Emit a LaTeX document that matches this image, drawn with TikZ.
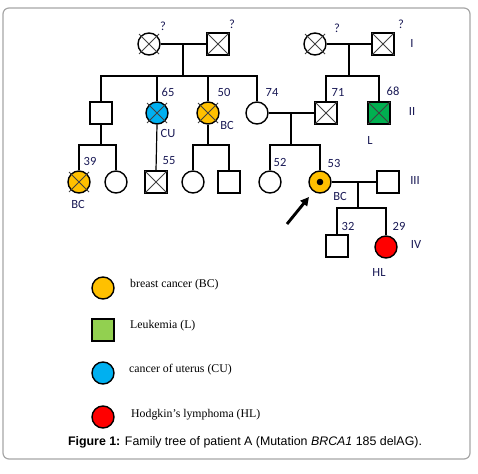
\documentclass[tikz,border=0pt]{standalone}
\usepackage{fontspec}
\setmainfont{Liberation Serif}
\newfontfamily\labfont{Carlito}
\newfontfamily\capfont{Liberation Sans}
\usetikzlibrary{calc,arrows.meta}
\definecolor{yel}{RGB}{255,192,0}
\definecolor{cub}{RGB}{0,176,240}
\definecolor{grn}{RGB}{0,176,80}
\definecolor{lgrn}{RGB}{146,208,80}
\definecolor{hred}{RGB}{255,0,0}
\definecolor{labc}{RGB}{25,25,85}
\newcommand\xcross[2][10]{\draw[xln] ($(#2)+(-#1,-#1)$) -- ($(#2)+(#1,#1)$) ($(#2)+(-#1,#1)$) -- ($(#2)+(#1,-#1)$);}
\begin{document}
\begin{tikzpicture}[x=1pt,y=-1pt,
  fem/.style={circle, draw, line width=1.4pt, minimum size=22pt, inner sep=0pt},
  mal/.style={rectangle, draw, line width=1.3pt, minimum size=22pt, inner sep=0pt},
  thk/.style={line width=2.9pt},
  thn/.style={line width=1.2pt},
  xln/.style={line width=0.8pt, black!75},
  lbl/.style={font=\labfont\fontsize{12.5}{13}\selectfont, text=labc, inner sep=0pt},
  leg/.style={font=\fontsize{11.8}{13}\selectfont, anchor=west, inner sep=0pt}]
\useasboundingbox (0,0) rectangle (478,473);
\draw[black!35, line width=1.2pt, rounded corners=6pt] (3,8) rectangle (470,459);

% Generation I
\node[fem] (a1) at (149,44) {};
\node[mal] (a2) at (218,44) {};
\node[fem] (b1) at (315,44) {};
\node[mal] (b2) at (383,44) {};
\xcross{a1}\xcross[11]{a2}\xcross{b1}\xcross[11]{b2}

% Generation II
\node[mal] (p1) at (101,113) {};
\node[fem, fill=cub] (p2) at (157,113) {};
\node[fem, fill=yel] (p3) at (208,113) {};
\node[fem] (p4) at (257,113) {};
\node[mal] (p5) at (326,113) {};
\node[mal, fill=grn] (p6) at (379,113) {};
\xcross{p2}\xcross{p3}\xcross[11]{p5}\xcross[11]{p6}

% Generation III
\node[fem, fill=yel] (q1) at (79,182) {};
\node[fem] (q2) at (116,182) {};
\node[mal] (q3) at (156,182) {};
\node[fem] (q4) at (193,182) {};
\node[mal] (q5) at (229,182) {};
\node[fem] (q6) at (270,182) {};
\node[fem, fill=yel] (q7) at (320,182) {};
\node[mal] (q8) at (388,182) {};
\xcross{q1}\xcross[11]{q3}
\fill (q7) circle (3.3pt);

% Generation IV
\node[mal] (r1) at (337,246) {};
\node[fem, fill=hred] (r2) at (386,247) {};

% coordinates
\coordinate (d1) at (183,44);
\coordinate (s1) at (183,76);
\coordinate (d2) at (349,44);
\coordinate (s2) at (349,76);
\coordinate (d3) at (291,113);
\coordinate (s3) at (291,145);
\coordinate (s4) at (101,145);
\coordinate (s5) at (208,145);
\coordinate (d6) at (358,182);
\coordinate (s6) at (358,208);

% Connectors gen I
\draw[thn] (a1) -- (a2);
\draw[thk] (d1) -- (s1);
\draw[thk] (p1.north) -- (p1 |- s1) -- (p4 |- s1) -- (p4.north);
\draw[thk] (p2 |- s1) -- (p2.north);
\draw[thk] (p3 |- s1) -- (p3.north);
\draw[thn] (b1) -- (b2);
\draw[thk] (d2) -- (s2);
\draw[thk] (p5.north) -- (p5 |- s2) -- (p6 |- s2) -- (p6.north);

% Connectors gen II -> III
\draw[thk] (p1.south) -- (s4) -- (q1 |- s4) -- (q1.north);
\draw[thn] (s4) -- (q2 |- s4) -- (q2.north);
\draw[thn] (p2.south) -- (q3.north);
\draw[thn] (p3.south) -- (s5);
\draw[thn] (q4.north) -- (q4 |- s5) -- (q5 |- s5) -- (q5.north);
\draw[thk] (p4) -- (p5);
\draw[thk] (d3) -- (s3);
\draw[thn] (s3) -- (q6 |- s3) -- (q6.north);
\draw[thk] (s3) -- (q7 |- s3) -- (q7.north);

% Connectors gen III -> IV
\draw[thk] (q7.east) -- (d6);
\draw[thn] (d6) -- (q8.west);
\draw[thk] (d6) -- (s6);
\draw[thn] (s6) -- (r1 |- s6) -- (r1.north);
\draw[thk] (s6) -- (r2 |- s6) -- (r2.north);

% proband arrow
\coordinate (arrt) at (287,224);
\draw[line width=2.9pt, -{Triangle[length=8.5pt,width=8.5pt]}] (arrt) -- ($(q7)+(-11,15)$);

% labels
\node[lbl] at (163,26) {?};
\node[lbl] at (232,24) {?};
\node[lbl] at (337,28) {?};
\node[lbl] at (401,24) {?};
\node[lbl] at (412,43) {I};
\node[lbl] at (168,92) {65};
\node[lbl] at (224,92) {50};
\node[lbl] at (272,92) {74};
\node[lbl] at (338,92) {71};
\node[lbl] at (393,91) {68};
\node[lbl] at (168,133) {CU};
\node[lbl] at (227,125) {BC};
\node[lbl] at (370,140) {L};
\node[lbl] at (412,111) {II};
\node[lbl] at (90,161) {39};
\node[lbl] at (78,204) {BC};
\node[lbl] at (169,161) {55};
\node[lbl] at (280,162) {52};
\node[lbl] at (334,163) {53};
\node[lbl] at (340,196) {BC};
\node[lbl] at (415,180) {III};
\node[lbl] at (348,226) {32};
\node[lbl] at (399,226) {29};
\node[lbl] at (416,244) {IV};
\node[lbl] at (379,272) {HL};

% legend
\node[fem, fill=yel] (l1) at (103,288) {};
\node[mal, fill=lgrn] (l2) at (103,330) {};
\node[fem, fill=cub] (l3) at (103,373) {};
\node[fem, fill=hred] (l4) at (103,417) {};
\node[leg] (t1) at (130,285) {breast cancer (BC)};
\node[leg] (t2) at (130,326) {Leukemia (L)};
\node[leg] (t3) at (129,370) {cancer of uterus (CU)};
\node[leg] (t4) at (131,415) {Hodgkin’s lymphoma (HL)};

% caption
\node[font=\capfont\fontsize{12.4}{14}\selectfont, inner sep=0pt] (cap) at (245,442)
  {\textbf{Figure 1:} Family tree of patient A (Mutation \textit{BRCA1} 185 delAG).};
\end{tikzpicture}
\end{document}
